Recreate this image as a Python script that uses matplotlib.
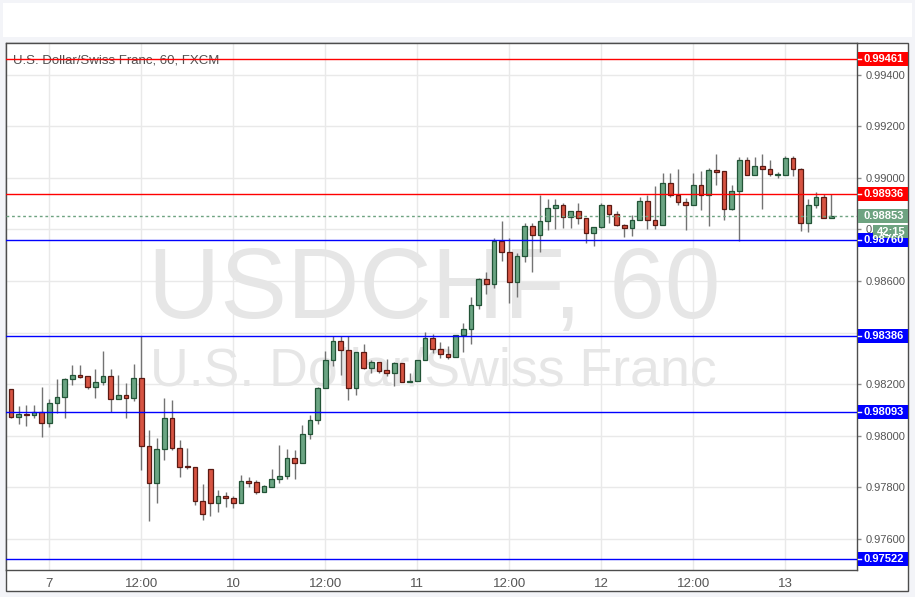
import numpy as np
import matplotlib
matplotlib.use('Agg')
from matplotlib import pyplot as plt
from matplotlib.patches import Rectangle
from matplotlib.transforms import blended_transform_factory

# hourly candles, USD/CHF
opens = [0.98180, 0.98071, 0.98083, 0.98080, 0.98090, 0.98048, 0.98125, 0.98149, 0.98218, 0.98235,
         0.98230, 0.98187, 0.98207, 0.98230, 0.98141, 0.98156, 0.98145, 0.98222, 0.97961, 0.97817,
         0.97947, 0.98067, 0.97951, 0.97882, 0.97877, 0.97744, 0.97869, 0.97737, 0.97766, 0.97757,
         0.97740, 0.97824, 0.97819, 0.97779, 0.97802, 0.97830, 0.97843, 0.97912, 0.97892, 0.98005,
         0.98061, 0.98184, 0.98293, 0.98366, 0.98331, 0.98183, 0.98323, 0.98263, 0.98286, 0.98253,
         0.98241, 0.98280, 0.98207, 0.98210, 0.98292, 0.98377, 0.98335, 0.98317, 0.98304, 0.98389,
         0.98412, 0.98505, 0.98606, 0.98587, 0.98754, 0.98711, 0.98597, 0.98696, 0.98812, 0.98777,
         0.98832, 0.98882, 0.98894, 0.98847, 0.98873, 0.98844, 0.98788, 0.98809, 0.98894, 0.98859,
         0.98817, 0.98805, 0.98836, 0.98910, 0.98836, 0.98817, 0.98980, 0.98933, 0.98906, 0.98896,
         0.98973, 0.98933, 0.99032, 0.99028, 0.98881, 0.98950, 0.99070, 0.99011, 0.99047, 0.99034,
         0.99013, 0.99013, 0.99077, 0.99034, 0.98827, 0.98894, 0.98925, 0.98845]
highs = [0.98180, 0.98115, 0.98119, 0.98119, 0.98190, 0.98142, 0.98220, 0.98225, 0.98272, 0.98274,
         0.98230, 0.98259, 0.98328, 0.98259, 0.98235, 0.98205, 0.98278, 0.98387, 0.98022, 0.97989,
         0.98145, 0.98138, 0.97983, 0.97953, 0.97877, 0.97812, 0.97869, 0.97789, 0.97780, 0.97767,
         0.97847, 0.97841, 0.97828, 0.97808, 0.97870, 0.97964, 0.97947, 0.97944, 0.98041, 0.98080,
         0.98190, 0.98328, 0.98388, 0.98388, 0.98388, 0.98323, 0.98355, 0.98293, 0.98286, 0.98297,
         0.98287, 0.98283, 0.98241, 0.98292, 0.98401, 0.98393, 0.98363, 0.98349, 0.98389, 0.98436,
         0.98537, 0.98610, 0.98634, 0.98766, 0.98833, 0.98766, 0.98707, 0.98824, 0.98824, 0.98932,
         0.98918, 0.98918, 0.98901, 0.98873, 0.98901, 0.98844, 0.98809, 0.98902, 0.98894, 0.98872,
         0.98821, 0.98857, 0.98928, 0.98935, 0.98969, 0.99021, 0.99021, 0.99035, 0.98922, 0.99021,
         0.99029, 0.99038, 0.99094, 0.99028, 0.98973, 0.99083, 0.99083, 0.99083, 0.99094, 0.99070,
         0.99025, 0.99087, 0.99087, 0.99038, 0.98918, 0.98947, 0.98937, 0.98937]
lows = [0.98067, 0.98045, 0.98039, 0.98070, 0.97996, 0.98035, 0.98086, 0.98070, 0.98196, 0.98225,
        0.98180, 0.98147, 0.98196, 0.98090, 0.98141, 0.98070, 0.98136, 0.97867, 0.97670, 0.97740,
        0.97905, 0.97942, 0.97841, 0.97869, 0.97731, 0.97672, 0.97689, 0.97705, 0.97724, 0.97720,
        0.97740, 0.97799, 0.97773, 0.97779, 0.97802, 0.97817, 0.97830, 0.97830, 0.97892, 0.97986,
        0.98045, 0.98184, 0.98271, 0.98235, 0.98138, 0.98157, 0.98257, 0.98244, 0.98244, 0.98231,
        0.98194, 0.98207, 0.98207, 0.98210, 0.98292, 0.98322, 0.98300, 0.98297, 0.98304, 0.98326,
        0.98357, 0.98490, 0.98548, 0.98571, 0.98679, 0.98516, 0.98537, 0.98675, 0.98636, 0.98714,
        0.98798, 0.98800, 0.98804, 0.98807, 0.98820, 0.98749, 0.98736, 0.98805, 0.98827, 0.98814,
        0.98769, 0.98775, 0.98836, 0.98803, 0.98801, 0.98817, 0.98925, 0.98896, 0.98799, 0.98896,
        0.98876, 0.98812, 0.98973, 0.98835, 0.98875, 0.98757, 0.99011, 0.99011, 0.98881, 0.99006,
        0.98999, 0.99011, 0.99006, 0.98796, 0.98792, 0.98885, 0.98844, 0.98845]
closes = [0.98071, 0.98083, 0.98079, 0.98090, 0.98048, 0.98125, 0.98149, 0.98218, 0.98234, 0.98229,
          0.98187, 0.98207, 0.98230, 0.98141, 0.98156, 0.98145, 0.98222, 0.97961, 0.97817, 0.97947,
          0.98067, 0.97951, 0.97879, 0.97876, 0.97744, 0.97694, 0.97737, 0.97766, 0.97757, 0.97740,
          0.97824, 0.97817, 0.97779, 0.97804, 0.97830, 0.97843, 0.97912, 0.97892, 0.98005, 0.98061,
          0.98184, 0.98294, 0.98366, 0.98331, 0.98183, 0.98323, 0.98263, 0.98286, 0.98252, 0.98241,
          0.98280, 0.98207, 0.98212, 0.98292, 0.98377, 0.98335, 0.98317, 0.98304, 0.98389, 0.98412,
          0.98505, 0.98606, 0.98587, 0.98754, 0.98711, 0.98597, 0.98696, 0.98812, 0.98777, 0.98832,
          0.98882, 0.98894, 0.98847, 0.98873, 0.98843, 0.98788, 0.98809, 0.98894, 0.98859, 0.98817,
          0.98805, 0.98836, 0.98910, 0.98836, 0.98817, 0.98980, 0.98933, 0.98906, 0.98896, 0.98973,
          0.98933, 0.99032, 0.99025, 0.98881, 0.98950, 0.99070, 0.99011, 0.99047, 0.99034, 0.99015,
          0.99016, 0.99077, 0.99034, 0.98827, 0.98894, 0.98925, 0.98844, 0.98853]

tick_pos = [5, 17, 29, 41, 53, 65, 77, 89, 101]
tick_labels = ['7', '12:00', '10', '12:00', '11', '12:00', '12', '12:00', '13']
price_ticks = [0.976, 0.978, 0.980, 0.982, 0.984, 0.986, 0.988, 0.990, 0.992, 0.994]

levels = [0.99461, 0.98936, 0.98760, 0.98386, 0.98093, 0.97522]
level_colors = ['#ff0000', '#ff0000', '#0000ff', '#0000ff', '#0000ff', '#0000ff']
last_price = 0.98853
countdown = '42:15'

title = 'U.S. Dollar/Swiss Franc, 60, FXCM'
wm_big = 'USDCHF, 60'
wm_small = 'U.S. Dollar/Swiss Franc'

plt.rcParams['font.family'] = ['Liberation Sans', 'DejaVu Sans']
narrow = ['Liberation Sans Narrow', 'Liberation Sans', 'DejaVu Sans']

W, H = 915, 597
fig = plt.figure(figsize=(W / 100, H / 100), dpi=100, facecolor='#f3f4f8')
fig.patches.append(Rectangle((3 / W, 1 - 37 / H), 909 / W, 34 / H, transform=fig.transFigure,
                             fc='white', ec='none', zorder=-10))
fig.patches.append(Rectangle((6 / W, 6 / H), 902 / W, 548 / H, transform=fig.transFigure,
                             fc='white', ec='#4d4d4d', lw=1, zorder=-10))

ax = fig.add_axes([6 / W, 27 / H, 851 / W, 527 / H])
ymin, ymax = 0.97478, 0.99524
ax.set_xlim(-0.65, 110.35)
ax.set_ylim(ymin, ymax)
for s in ax.spines.values():
    s.set_color('#4d4d4d')
    s.set_linewidth(1)

ax.grid(True, color='#e9e9e9', lw=1)
ax.set_axisbelow(True)

# watermark
ax.text(434 / W, 1 - 318 / H, wm_big, transform=fig.transFigure, ha='center', va='baseline',
        fontsize=72, color='#e6e6e6', zorder=1)
ax.text(433 / W, 1 - 385 / H, wm_small, transform=fig.transFigure, ha='center', va='baseline',
        fontsize=38.6, color='#e6e6e6', zorder=1)

# candles
x = np.arange(len(opens))
o = np.array(opens)
c = np.array(closes)
up = c >= o
ax.vlines(x, lows, highs, color='#737373', lw=1, zorder=3)
bot = np.minimum(o, c)
hgt = np.maximum(np.abs(c - o), 0.00003)
ax.bar(x[up], hgt[up], bottom=bot[up], width=0.62, color='#6ba583', edgecolor='#225437', lw=0.9, zorder=4)
ax.bar(x[~up], hgt[~up], bottom=bot[~up], width=0.62, color='#d75442', edgecolor='#5b1a13', lw=0.9, zorder=4)

# levels
for p, col in zip(levels, level_colors):
    ax.axhline(p, color=col, lw=1, zorder=5)
ax.axhline(last_price, color='#6ea381', lw=1, ls=(0, (2, 2)), zorder=5)

ax.text(13 / W, 1 - 60.5 / H, title, transform=fig.transFigure, ha='left', va='center',
        fontsize=9.5, color='#505050', family=narrow, zorder=4)

# axes ticks
ax.yaxis.tick_right()
ax.set_yticks(price_ticks, ['%.5f' % t for t in price_ticks])
ax.tick_params(axis='y', length=3, width=1, color='#8a8a8a', labelcolor='#555555', labelsize=8, pad=3)
ax.set_xticks(tick_pos, tick_labels)
ax.tick_params(axis='x', length=0, pad=6, labelsize=9.5, labelcolor='#555555')
for lbl in ax.get_xticklabels():
    lbl.set_fontfamily(narrow)

trans = blended_transform_factory(ax.transAxes, ax.transData)
px = (ymax - ymin) / 527


def price_box(p, text, fc, x0=1, w=50, h=14, tx=7):
    ax.add_patch(Rectangle((1 + x0 / 851, p - h * px / 2), w / 851, h * px, transform=trans,
                           fc=fc, ec='none', clip_on=False, zorder=6))
    ax.text(1 + tx / 851, p, text, transform=trans, ha='left', va='center', color='white',
            fontsize=8, fontweight='bold', clip_on=False, zorder=7)


for p, col in zip(levels, level_colors):
    price_box(p, '%.5f' % p, col)
    ax.plot([1 + 1 / 851, 1 + 4 / 851], [p, p], transform=trans, color='white', lw=1,
            clip_on=False, zorder=7)
price_box(last_price, '%.5f' % last_price, '#6ea381')
price_box(last_price - 16 * px, countdown, '#6ea381', x0=16, w=35, h=13, tx=20)

fig.savefig('out.png', dpi=100, facecolor=fig.get_facecolor())
